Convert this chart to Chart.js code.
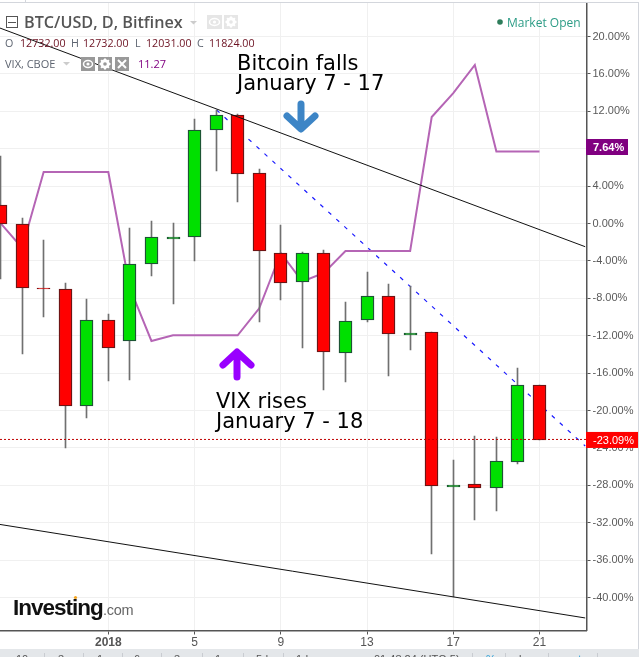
<!DOCTYPE html>
<html><head><meta charset="utf-8">
<style>html,body{margin:0;padding:0;background:#fff;overflow:hidden}canvas{display:block}</style>
<script src="https://cdn.jsdelivr.net/npm/chart.js@4/dist/chart.umd.min.js"></script>
</head><body><canvas id="c" width="639" height="657"></canvas>
<script>
const days   = [-4,-3,-2,-1,0,1,2,3,4,5,6,7,8,9,10,11,12,13,14,15,16,17,18,19,20,21];
const opens  = [1.95,-0.09,-6.93,-7.04,-19.54,-10.35,-12.59,-4.36,-1.58,-1.48,9.96,11.57,5.37,-3.19,-6.29,-3.19,-13.88,-10.35,-7.78,-11.83,-11.63,-28.08,-27.85,-28.31,-25.53,-17.30];
const closes = [-0.09,-6.93,-7.03,-19.54,-10.35,-13.28,-4.36,-1.48,-1.48,9.96,11.57,5.26,-2.97,-6.33,-3.19,-13.77,-10.46,-7.78,-11.85,-11.73,-28.10,-27.98,-28.25,-25.43,-17.30,-23.18];
const highs  = [7.22,0.59,-1.76,-6.36,-8.07,-9.68,-0.48,0.27,0.05,11.17,12.13,11.71,5.79,-0.16,-3.05,-2.83,-8.39,-5.19,-6.47,-6.68,-11.63,-25.29,-22.72,-22.83,-15.45,-17.30];
const lows   = [-5.93,-13.95,-9.96,-23.97,-20.76,-16.81,-16.70,-5.58,-8.57,-3.98,5.65,2.33,-10.50,-8.15,-13.28,-17.77,-16.91,-10.50,-16.27,-13.49,-35.30,-39.90,-31.67,-30.71,-25.68,-23.18];
const vix    = [0.05,-2.62,5.51,5.51,5.51,5.51,-6.90,-12.56,-11.95,-11.95,-11.95,-11.95,-9.07,-3.15,-6.20,-5.29,-2.94,-2.94,-2.94,-2.94,11.39,13.95,16.95,7.70,7.70,7.70];
const upperTrendDays = [-4.025,23.12], upperTrend = [20.9,-2.48];
const lowerTrendDays = [-4.025,23.12], lowerTrend = [-32.18,-42.18];
const blueTrendDays  = [6.02,23.12],   blueTrend  = [12.14,-23.79];
const lastPct = -23.09;
const yTicks = [20,16,12,8,4,0,-4,-8,-12,-16,-20,-24,-28,-32,-36,-40];
const xTicks = [1,5,9,13,17,21];
const xTickLabels = ['2018','5','9','13','17','21'];
const xMin = -4.025, xMax = 23.18, yMin = -43.52, yMax = 23.58;

const RED='#ff0000', GREEN='#00e000', REDB='#6e1414', GREENB='#1c5534';
const pts=(xs,ys)=>xs.map((x,i)=>({x,y:ys[i]}));
const isUp=days.map((_,i)=>closes[i]>=opens[i]);
const xline=[xMin,xMax];

// Snap bar elements (positioned by the library's scales) to whole device pixels for crisp candles
const snapBars={id:'snapBars',beforeDatasetsDraw(ch){
 ch.getSortedVisibleDatasetMetas().forEach(m=>{
  if(m.type!=='bar')return;
  m.data.forEach((el,i)=>{
   el.x=Math.round(el.x-0.5)+0.5;
   const a=Math.round(el.y),b=Math.round(el.base);
   el.y=a;el.base=b===a?a+1:b;
   if(m.index===3&&isUp[i]&&Math.abs(el.base-el.y)<3){el.y=Math.min(el.y,el.base);el.base=el.y+2;}
   el.height=el.base-el.y;
  });
 });
}};

const overlay={id:'overlay',afterDatasetsDraw(ch){
 const c=ch.ctx;c.save();
 const txt=(s,x,y,f,col,ls)=>{c.font=f;c.fillStyle=col;c.textBaseline='alphabetic';c.textAlign='left';c.letterSpacing=ls||'0px';c.fillText(s,x,y);c.letterSpacing='0px';};
 // frame
 c.fillStyle='#d3d6dc';c.fillRect(0,2,639,1);c.fillRect(638,2,1,647);c.fillRect(25,0,1,2);
 // bottom bar
 c.fillStyle='#e4e7ea';c.fillRect(0,649,639,8);
 c.fillStyle='#c9ccd1';[44,83,122,161,202,243,283,472,505,548,597].forEach(x=>c.fillRect(x,653,1,4));
 const bar='11px "Liberation Sans"';
 [['10y',16],['3y',58],['1y',97],['6m',134],['3m',174],['1m',215],['5d',256],['1d',296]].forEach(a=>txt(a[0],a[1],663,bar,'#555'));
 txt('01:48:24 (UTC-5)',374,663,bar,'#555');txt('%',486,663,bar,'#2a9fd6');txt('log',519,663,bar,'#555');txt('auto',566,663,bar,'#2a9fd6');
 // header
 c.strokeStyle='#555';c.lineWidth=1;c.strokeRect(6.5,16.5,11,11);c.beginPath();c.moveTo(8,22.5);c.lineTo(16,22.5);c.stroke();
 txt('BTC/USD, D, Bitfinex',24,28,'600 16.2px "Open Sans"','#555');
 const caret=(x,y,col)=>{c.fillStyle=col;c.beginPath();c.moveTo(x,y);c.lineTo(x+7,y);c.lineTo(x+3.5,y+3.5);c.fill();};
 caret(190,21,'#ccc');
 const eye=(x,y,w,h,bg)=>{c.fillStyle=bg;c.fillRect(x,y,w,h);c.strokeStyle='#fff';c.lineWidth=1.5;c.beginPath();c.ellipse(x+w/2,y+h/2,w/2-2.5,h/2-3.5,0,0,7);c.stroke();c.fillStyle='#fff';c.beginPath();c.arc(x+w/2,y+h/2,1.6,0,7);c.fill();};
 const gear=(x,y,w,h,bg)=>{c.fillStyle=bg;c.fillRect(x,y,w,h);c.strokeStyle='#fff';c.lineWidth=2.5;c.beginPath();c.arc(x+w/2,y+h/2,3.5,0,7);c.stroke();c.lineWidth=2;for(let a=0;a<4;a++){const t=a*Math.PI/4;c.beginPath();c.moveTo(x+w/2-5.5*Math.cos(t),y+h/2-5.5*Math.sin(t));c.lineTo(x+w/2+5.5*Math.cos(t),y+h/2+5.5*Math.sin(t));c.stroke();}c.fillStyle=bg;c.beginPath();c.arc(x+w/2,y+h/2,1.8,0,7);c.fill();};
 eye(207,15,15,14,'#e6e6e6');gear(224,15,14,14,'#e6e6e6');
 const lab='10.7px "Open Sans"',gr='#5d6470',dr='#6b1020';
 txt('O',5,47,lab,gr);txt('12732.00',20,47,lab,dr);txt('H',71,47,lab,gr);txt('12732.00',83,47,lab,dr);
 txt('L',135,47,lab,gr);txt('12031.00',146,47,lab,dr);txt('C',197,47,lab,gr);txt('11824.00',209,47,lab,dr);
 txt('VIX, CBOE',5,68,'11px "Open Sans"',gr);caret(63,62,'#ccc');
 eye(81,57,14,14,'#999');gear(98,57,14,14,'#999');
 c.fillStyle='#999';c.fillRect(115,57,14,14);c.strokeStyle='#fff';c.lineWidth=2;c.beginPath();c.moveTo(118,60);c.lineTo(126,68);c.moveTo(126,60);c.lineTo(118,68);c.stroke();
 txt('11.27',138,68,'11px "Open Sans"','#800080');
 // market open
 c.fillStyle='#2e7d5b';c.beginPath();c.arc(500,22,2.8,0,7);c.fill();
 txt('Market Open',507,26.5,'12px "Open Sans"','#2c9c86');
 // annotations
 const ann='21px "DejaVu Sans"';
 txt('Bitcoin falls',237,70,ann,'#000');txt('January 7 - 17',237,90,ann,'#000');
 txt('VIX rises',216,408,ann,'#000');txt('January 7 - 18',216,428,ann,'#000');
 const arrow=(x,tip,tail,dir,col)=>{c.strokeStyle=col;c.lineWidth=7;c.lineCap='round';c.lineJoin='round';c.beginPath();c.moveTo(x,tail-dir*3);c.lineTo(x,tip+dir*5);c.moveTo(x-14,tip+dir*17);c.lineTo(x,tip+dir*4);c.lineTo(x+14,tip+dir*17);c.stroke();c.lineCap='butt';};
 arrow(301,133,101,-1,'#3d85c6');
 arrow(237,348,380,1,'#9900ff');
 // logo
 txt('Investing',13,615,'bold 22.5px "Liberation Sans"','#111','-1px');
 txt('.com',103,615,'14.5px "Liberation Sans"','#666','-0.3px');
 c.fillStyle='#f5a623';c.beginPath();c.arc(75.5,597.5,1.6,0,7);c.fill();
 // price tags
 const ypx=ch.scales.y.getPixelForValue(lastPct);
 c.fillStyle='#800080';c.fillRect(586,139,42,16);
 txt('7.64%',593,151,'bold 11px "Liberation Sans"','#fff');
 c.fillStyle='#ff0000';c.fillRect(586,ypx-7.5,52,16);
 txt(lastPct.toFixed(2)+'%',593,ypx+4.5,'11px "Liberation Sans"','#fff');
 c.restore();
}};

new Chart(document.getElementById('c'),{
 data:{datasets:[
  {type:'line',data:pts(blueTrendDays,blueTrend),borderColor:'#1a1aff',borderWidth:1.2,borderDash:[4,6.8],pointRadius:0,order:6},
  {type:'line',data:pts(days,vix),borderColor:'#b565b5',borderWidth:2,pointRadius:0,tension:0,order:5},
  {type:'bar',data:days.map((d,i)=>({x:d,y:[lows[i],highs[i]]})),backgroundColor:'#707070',barThickness:1,grouped:false,order:4},
  {type:'bar',data:days.map((d,i)=>({x:d,y:[opens[i],closes[i]]})),
    backgroundColor:isUp.map(u=>u?GREEN:RED),borderColor:isUp.map(u=>u?GREENB:REDB),borderWidth:1.4,borderSkipped:false,barThickness:13,grouped:false,order:3},
  {type:'line',data:pts(upperTrendDays,upperTrend),borderColor:'#111',borderWidth:1,pointRadius:0,order:2},
  {type:'line',data:pts(lowerTrendDays,lowerTrend),borderColor:'#111',borderWidth:1,pointRadius:0,order:2},
  {type:'line',data:pts(xline,xline.map(()=>lastPct)),borderColor:'#c00000',borderWidth:1,borderDash:[2,2],pointRadius:0,order:1}
 ]},
 options:{responsive:false,animation:false,devicePixelRatio:1,
  layout:{padding:{top:3,left:0,right:0,bottom:0}},
  plugins:{legend:{display:false},tooltip:{enabled:false}},
  scales:{
   x:{type:'linear',offset:false,min:xMin,max:xMax,position:'bottom',
     afterBuildTicks:s=>{s.ticks=xTicks.map(v=>({value:v}));},
     afterFit:s=>{s.height=26.5;s.paddingLeft=0;s.paddingRight=0;},
     grid:{offset:false,color:'#f0f0f0',tickColor:'#555',tickLength:4,lineWidth:1},
     border:{color:'#555',width:1.5},
     ticks:{autoSkip:false,maxRotation:0,padding:1,color:'#555',
       font:c=>({family:'"Liberation Sans"',size:12,weight:c.index===0?'bold':'normal'}),
       callback:(v)=>xTickLabels[xTicks.indexOf(v)]}},
   y:{type:'linear',min:yMin,max:yMax,position:'right',
     afterBuildTicks:s=>{s.ticks=yTicks.map(v=>({value:v}));},
     afterFit:s=>{s.width=52.5;s.paddingTop=0;s.paddingBottom=0;},
     grid:{color:'#f0f0f0',tickColor:'#555',tickLength:4,lineWidth:1},
     border:{color:'#555',width:1.5},
     ticks:{autoSkip:false,padding:2,color:'#5a5a5a',font:{family:'"Liberation Sans"',size:11},
       callback:v=>v.toFixed(2)+'%'}}
  }},
 plugins:[snapBars,overlay]
});
</script></body></html>
